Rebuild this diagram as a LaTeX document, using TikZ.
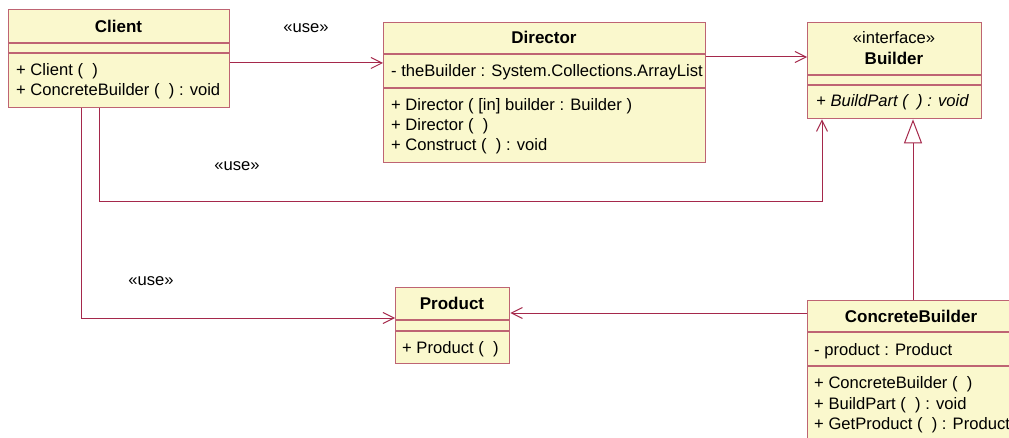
\documentclass[tikz,border=0pt]{standalone}
\usepackage{fontspec}
\setmainfont{Liberation Sans}
\usetikzlibrary{arrows.meta}

\definecolor{classfill}{RGB}{250,248,205}
\definecolor{boxline}{RGB}{190,100,115}
\definecolor{linkline}{RGB}{165,40,75}

\tikzset{
  cls/.style={draw=boxline, fill=classfill, line width=1.3pt, inner sep=0pt,
              anchor=north west},
  sep/.style={draw=boxline, line width=1.1pt},
  txt/.style={anchor=base west, inner sep=0pt, font=\fontsize{16.6}{19}\selectfont},
  ttl/.style={anchor=base, inner sep=0pt, font=\fontsize{17}{20}\selectfont\bfseries},
  stereo/.style={anchor=base, inner sep=0pt, font=\fontsize{16.6}{19}\selectfont},
  dep/.style={draw=linkline, line width=1pt,
              -{Straight Barb[length=11pt,width=11pt,line width=1pt]}},
  gen/.style={draw=linkline, line width=1pt,
              -{Triangle[open,length=24pt,width=18pt,line width=1pt,fill=white]}},
}

\begin{document}
\begin{tikzpicture}[x=1pt,y=-1pt]
\useasboundingbox[fill=white] (0,0) rectangle (1009,438);

% ---- Client
\node[cls, minimum width=221pt, minimum height=98pt] (client) at (8,9) {};
\draw[sep] ([yshift=-34pt]client.north west) -- ([yshift=-34pt]client.north east);
\draw[sep] ([yshift=-44pt]client.north west) -- ([yshift=-44pt]client.north east);
\node[ttl] (clientT) at (118.5,33) {Client};
\node[txt] (clientO1) at (16,76) {+ Client (\ \ )};
\node[txt] (clientO2) at (16,96) {+ ConcreteBuilder (\ \ ) : void};

% ---- Director
\node[cls, minimum width=322pt, minimum height=140pt] (director) at (383,22) {};
\draw[sep] ([yshift=-32pt]director.north west) -- ([yshift=-32pt]director.north east);
\draw[sep] ([yshift=-66pt]director.north west) -- ([yshift=-66pt]director.north east);
\node[ttl] (directorT) at (544,44) {Director};
\node[txt] (directorA1) at (391,77) {- theBuilder : System.Collections.ArrayList};
\node[txt] (directorO1) at (391,111) {+ Director ( [in] builder : Builder )};
\node[txt] (directorO2) at (391,131) {+ Director (\ \ )};
\node[txt] (directorO3) at (391,151) {+ Construct (\ \ ) : void};

% ---- Builder (interface)
\node[cls, minimum width=174pt, minimum height=96pt] (builder) at (807,22) {};
\draw[sep] ([yshift=-53pt]builder.north west) -- ([yshift=-53pt]builder.north east);
\draw[sep] ([yshift=-63pt]builder.north west) -- ([yshift=-63pt]builder.north east);
\node[stereo] (builderS) at (894,44) {«interface»};
\node[ttl] (builderT) at (894,65) {Builder};
\node[txt, font=\fontsize{16.6}{19}\selectfont\itshape] (builderO1) at (816,107) {+ BuildPart (\ \ ) : void};

% ---- Product
\node[cls, minimum width=114pt, minimum height=76pt] (product) at (395,287) {};
\draw[sep] ([yshift=-33pt]product.north west) -- ([yshift=-33pt]product.north east);
\draw[sep] ([yshift=-44pt]product.north west) -- ([yshift=-44pt]product.north east);
\node[ttl] (productT) at (452,309) {Product};
\node[txt] (productO1) at (402,353) {+ Product (\ \ )};

% ---- ConcreteBuilder
\node[cls, minimum width=205pt, minimum height=142pt] (cbuilder) at (807,300) {};
\draw[sep] ([yshift=-32pt]cbuilder.north west) -- ([yshift=-32pt]cbuilder.north east);
\draw[sep] ([yshift=-66pt]cbuilder.north west) -- ([yshift=-66pt]cbuilder.north east);
\node[ttl] (cbuilderT) at (911,323) {ConcreteBuilder};
\node[txt] (cbuilderA1) at (814,355) {- product : Product};
\node[txt] (cbuilderO1) at (814,388) {+ ConcreteBuilder (\ \ )};
\node[txt] (cbuilderO2) at (814,409) {+ BuildPart (\ \ ) : void};
\node[txt] (cbuilderO3) at (814,429) {+ GetProduct (\ \ ) : Product};

% ---- connectors
\coordinate (yCD) at (0,63);
\draw[dep] (client.east |- yCD) -- (director.west |- yCD);
\node[stereo] (use1) at (306,33) {«use»};

\coordinate (yDB) at (0,57);
\draw[dep] (director.east |- yDB) -- (builder.west |- yDB);

\coordinate (cbCorner) at (99,202);
\coordinate (xBu) at (822,0);
\draw[dep] (client.south -| cbCorner) -- (cbCorner) -- (cbCorner -| xBu) -- (builder.south -| xBu);
\node[stereo] (use2) at (237,171) {«use»};

\coordinate (cpCorner) at (81,318);
\draw[dep] (client.south -| cpCorner) -- (cpCorner) -- (product.west |- cpCorner);
\node[stereo] (use3) at (151,286) {«use»};

\coordinate (yPC) at (0,313);
\draw[dep] (cbuilder.west |- yPC) -- (product.east |- yPC);

\coordinate (xG) at (913,0);
\draw[gen] (cbuilder.north -| xG) -- (builder.south -| xG);
\end{tikzpicture}
\end{document}
